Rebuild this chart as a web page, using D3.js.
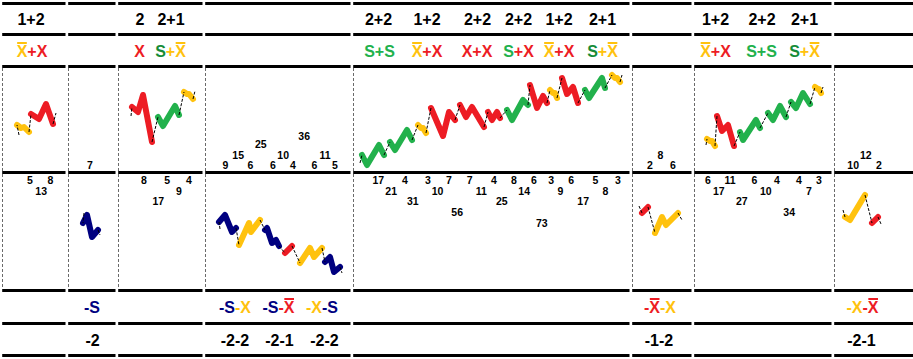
<!DOCTYPE html>
<html><head><meta charset="utf-8">
<script src="https://cdn.jsdelivr.net/npm/d3@7"></script>
<style>body{margin:0;background:#fff}svg{display:block}</style>
</head><body>
<svg id="c" width="913" height="359"></svg>
<script>
// ---------------- DATA ----------------
// session boundaries on the time axis
const sessionBreaks = [1.5, 67.5, 117.5, 204.5, 352.5, 631.5, 693.5, 833.5];

// row 1: structure labels [text, time]
const structureLabels = [["1+2",31],["2",140],["2+1",171],["2+2",378.5],["1+2",427],["2+2",477.5],["2+2",518.5],["1+2",559],["2+1",602.5],["1+2",715.5],["2+2",762],["2+1",804.5]];
// row 2: pattern labels [types, time]
const patternLabels = [[["Xb","X"],32],[["X"],139.5],[["S","Xb"],170.5],[["S","S"],379.5],[["Xb","X"],427],[["X","X"],477],[["S","X"],518.5],[["Xb","X"],559],[["S","Xb"],602.5],[["Xb","X"],715.5],[["S","S"],761.5],[["S","Xb"],804.5]];
// row 5: negative pattern labels
const negPatternLabels = [[["nS"],92],[["nS","nX"],235],[["nS","nXb"],278.5],[["nX","nS"],322],[["nXb","nX"],660],[["nX","nXb"],862.5]];
// row 6: negative structure labels
const negStructureLabels = [["-2",92.5],["-2-2",235],["-2-1",279.5],["-2-2",324.5],["-1-2",659],["-2-1",861.5]];

// wave segments: [session, type, [[time, price], ...]]
const waveSegments = [
  [0,"Xb",[[17,47],[21,44],[24,45],[29,40]]],
  [0,"X",[[31,58],[39,53],[46,68],[53,48]]],
  [1,"nS",[[83,-51],[87,-43],[92,-65],[98,-58]]],
  [2,"X",[[132,65],[138,60],[143,77],[152,30]]],
  [2,"S",[[158,55],[163,46],[175,66],[179,57]]],
  [2,"Xb",[[184,80],[187,78],[189,78],[193,73]]],
  [3,"nS",[[219,-50],[225,-43],[232,-60],[236,-56]]],
  [3,"nX",[[239,-73],[249,-51],[251,-60],[260,-48]]],
  [3,"nS",[[265,-58],[267,-56],[272,-71],[276,-68],[279,-74]]],
  [3,"nXb",[[285,-81],[292,-74]]],
  [3,"nX",[[300,-91],[310,-76],[314,-85],[322,-76]]],
  [3,"nS",[[325,-90],[330,-85],[334,-100],[340,-95]]],
  [4,"S",[[362,17],[367,7],[379,27],[384,17]]],
  [4,"S",[[390,30],[395,22],[407,42],[412,32]]],
  [4,"Xb",[[418,47],[421,44],[423,44],[426,39]]],
  [4,"X",[[431,64],[443,36],[449,60],[455,52]]],
  [4,"X",[[460,67],[466,55],[472,65],[484,45]]],
  [4,"X",[[488,60],[492,52],[497,60],[500,54]]],
  [4,"S",[[507,62],[512,52],[523,72],[528,67]]],
  [4,"X",[[530,87],[537,64],[543,76],[547,69]]],
  [4,"Xb",[[550,82],[553,79],[555,79],[557,74]]],
  [4,"X",[[562,94],[567,78],[573,85],[578,69]]],
  [4,"S",[[585,82],[589,74],[602,94],[605,84]]],
  [4,"Xb",[[612,97],[615,94],[617,94],[620,90]]],
  [5,"nXb",[[642,-41],[648,-35]]],
  [5,"nX",[[655,-61],[662,-45],[666,-53],[678,-41]]],
  [6,"Xb",[[707,33],[710,31],[712,31],[715,26]]],
  [6,"X",[[717,56],[722,41],[728,47],[734,26]]],
  [6,"S",[[740,40],[743,32],[756,52],[760,44]]],
  [6,"S",[[768,59],[773,52],[780,66],[786,55]]],
  [6,"S",[[791,70],[796,64],[803,79],[810,68]]],
  [6,"Xb",[[815,85],[818,83],[819,83],[821,79]]],
  [7,"nX",[[845,-45],[850,-48],[865,-23]]],
  [7,"nXb",[[872,-51],[878,-45]]]
];
// lead-in / lead-out points of each session's thin path: [session, lead, trail]
const waveTicks = [
  [0,[19,37],[56,59]],
  [1,[84,-41],[100,-63]],
  [2,[131,56],[195,81]],
  [3,[220,-57],[342,-101]],
  [4,[360,9],[622,97]],
  [5,[639,-34],[682,-48]],
  [6,[706,27],[823,85]],
  [7,[843,-38],[881,-52]]
];

// duration labels above the zero line: [value, time, level]
const durationUp = [[7,90,1],
  [9,225.5,1],[6,250.5,1],[6,272.8,1],[4,292.8,1],[6,314.5,1],[5,335,1],[15,238.2,2],[10,283.2,2],[11,325,2],[25,260.8,3],[36,304.2,4],
  [2,650,1],[6,672.8,1],[8,660.5,2],
  [10,853.2,1],[2,878.8,1],[12,865.8,2]];
// duration labels below the zero line: [value, time, level]
const durationDown = [[5,30,1],[8,50.5,1],[13,41.2,2],
  [8,143.8,1],[5,167.2,1],[4,188.8,1],[9,178.8,2],[17,158.3,3],
  [17,378.3,1],[4,405,1],[3,427.8,1],[7,448.8,1],[7,469.7,1],[4,493.8,1],[8,513.8,1],[6,533.8,1],[3,551.2,1],[6,571.2,1],[5,595.3,1],[3,617.8,1],
  [21,391.2,2],[10,437.5,2],[11,481.2,2],[14,524.2,2],[9,560.5,2],[8,605.5,2],
  [31,412.8,3],[25,501.8,3],[17,583.2,3],[56,457.2,4],[73,541.8,5],
  [6,707.8,1],[11,730,1],[6,754.5,1],[4,777,1],[4,798.8,1],[3,818.8,1],[17,718.8,2],[10,765.8,2],[7,808.8,2],[27,741.8,3],[34,789.2,4]];

// ---------------- CHART ----------------
const W = 913, H = 359;
const svg = d3.select("#c");
svg.append("rect").attr("width",W).attr("height",H).attr("fill","#fff");

const x = d3.scaleLinear().domain([0, 913]).range([0, W]);
const y = d3.scaleLinear().domain([-118, 106]).range([290, 66]);

const colors = {Xb:"#FFC20E", X:"#ED1C24", S:"#22B14C", nS:"#000080", nX:"#FFC20E", nXb:"#ED1C24"};
const letters = {Xb:"X", X:"X", S:"S", nS:"S", nX:"X", nXb:"X"};
const overlined = {Xb:true, nXb:true};
const FONT = "'Liberation Sans', Arial, sans-serif";

// thick horizontal rules with small gaps at session breaks
const ruleTops = [2, 33, 65, 171, 289, 322, 354];
const gaps = sessionBreaks.map(b => [x(b) - 2, x(b) + 0.7]);
const pieces = [];
let st = 0;
gaps.forEach(g => { if (g[0] > st) pieces.push([st, g[0]]); st = g[1]; });
pieces.push([st, W]);
const gRules = svg.append("g");
ruleTops.forEach(t => {
  pieces.forEach(p => gRules.append("rect").attr("x", p[0]).attr("y", t).attr("width", p[1] - p[0]).attr("height", 3).attr("fill", "#000"));
});

// dashed vertical separators
const gV = svg.append("g").attr("stroke", "#6a6a6a").attr("stroke-width", 1).attr("stroke-dasharray", "3,2");
sessionBreaks.forEach(b => {
  const xx = Math.round(x(b)) + 0.5;
  gV.append("line").attr("x1", xx).attr("x2", xx).attr("y1", 68).attr("y2", 171);
  gV.append("line").attr("x1", xx).attr("x2", xx).attr("y1", 174).attr("y2", 289);
});

// waves
const line = d3.line().x(d => x(d[0])).y(d => y(d[1]));
const gW = svg.append("g");
gW.selectAll("path").data(waveSegments).join("path")
  .attr("d", d => line(d[2]))
  .attr("fill", "none")
  .attr("stroke", d => colors[d[1]])
  .attr("stroke-width", 6)
  .attr("stroke-linecap", "round")
  .attr("stroke-linejoin", "round");

// thin connectors
const gC = svg.append("g").attr("stroke", "#000").attr("stroke-width", 1).attr("stroke-dasharray", "3,1.5").attr("fill", "none");
waveTicks.forEach(tk => {
  const segs = waveSegments.filter(s => s[0] === tk[0]);
  const links = [];
  links.push([tk[1], segs[0][2][0]]);
  for (let i = 0; i < segs.length - 1; i++) {
    const a = segs[i][2], b = segs[i + 1][2];
    links.push([a[a.length - 1], b[0]]);
  }
  const last = segs[segs.length - 1][2];
  links.push([last[last.length - 1], tk[2]]);
  links.forEach(l => gC.append("path").attr("d", line(l)));
});

// duration labels
const gN = svg.append("g").attr("font-family", FONT).attr("font-weight", "bold").attr("font-size", "10.5px").attr("text-anchor", "middle").attr("fill", "#000");
const upBase = [3, 13.5, 24.5, 32];
durationUp.forEach(d => gN.append("text").attr("x", x(d[1])).attr("y", y(upBase[d[2] - 1])).text(d[0]));
durationDown.forEach(d => gN.append("text").attr("x", x(d[1])).attr("y", y(-12 - (d[2] - 1) * 10.7)).text(d[0]));

// header texts
const gT = svg.append("g").attr("font-family", FONT).attr("font-weight", "bold").attr("font-size", "16px").attr("text-anchor", "middle");
structureLabels.forEach(d => gT.append("text").attr("x", x(d[1])).attr("y", 25).attr("fill", "#000").text(d[0]));
negStructureLabels.forEach(d => gT.append("text").attr("x", x(d[1])).attr("y", 346).attr("fill", "#000").text(d[0]));

function richText(parts, cx, base) {
  const t = gT.append("text").attr("x", x(cx)).attr("y", base);
  parts.forEach(p => t.append("tspan").attr("fill", p.color).text(p.text));
  const node = t.node();
  let idx = 0;
  parts.forEach(p => {
    if (p.over) {
      let s, e;
      try { s = node.getStartPositionOfChar(idx).x; e = node.getEndPositionOfChar(idx).x; }
      catch (err) { s = x(cx) - 5; e = x(cx) + 5; }
      gT.append("rect").attr("x", s + 0.5).attr("width", e - s - 1).attr("y", base - 15).attr("height", 2).attr("fill", p.color);
    }
    idx += p.text.length;
  });
}
patternLabels.forEach(d => {
  const ty = d[0];
  let parts;
  if (ty.length === 1) parts = [{text: letters[ty[0]], color: colors[ty[0]], over: !!overlined[ty[0]]}];
  else {
    const c0 = (ty[0] === "S" && ty[1] === "Xb") ? "#168C38" : colors[ty[0]];
    parts = [{text: letters[ty[0]], color: c0, over: !!overlined[ty[0]]},
             {text: "+", color: colors[ty[1]]},
             {text: letters[ty[1]], color: colors[ty[1]], over: !!overlined[ty[1]]}];
  }
  richText(parts, d[1], 57);
});
negPatternLabels.forEach(d => {
  const parts = [];
  d[0].forEach(tp => {
    parts.push({text: "-", color: colors[tp]});
    parts.push({text: letters[tp], color: colors[tp], over: !!overlined[tp]});
  });
  richText(parts, d[1], 313);
});
</script>
</body></html>
